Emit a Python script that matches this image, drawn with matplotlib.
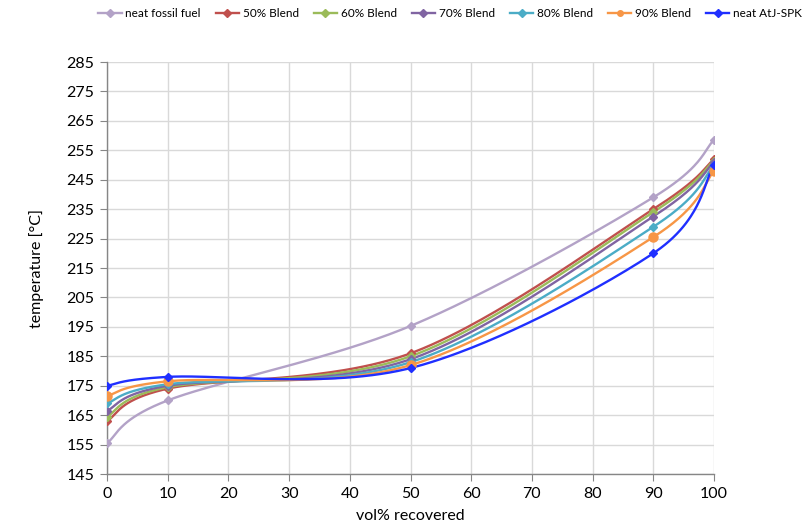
import numpy as np
import matplotlib
matplotlib.use("Agg")
import matplotlib.pyplot as plt

plt.rcParams['font.family'] = ['Lato', 'DejaVu Sans']

vol_recovered = [0, 10, 50, 90, 100]
series_names = ["neat fossil fuel", "50% Blend", "60% Blend", "70% Blend",
                "80% Blend", "90% Blend", "neat AtJ-SPK"]
neat_fossil = [155.5, 170.0, 195.3, 239.0, 258.5]
blend_50 = [163.0, 174.0, 186.0, 235.0, 252.0]
blend_60 = [164.5, 174.5, 185.0, 234.0, 251.5]
blend_70 = [166.5, 175.0, 184.0, 232.5, 251.0]
blend_80 = [169.0, 175.5, 183.0, 229.0, 250.0]
blend_90 = [171.5, 176.5, 182.0, 225.5, 248.0]
neat_atj = [175.0, 178.0, 181.0, 220.0, 250.0]
series_values = [neat_fossil, blend_50, blend_60, blend_70, blend_80, blend_90, neat_atj]
colors = ["#B3A2C7", "#C0504D", "#9BBB59", "#8064A2", "#4BACC6", "#F79646", "#1F2FFF"]
markers = ["D", "D", "D", "D", "D", "o", "D"]
marker_sizes = [4.5, 4.5, 4.5, 4.5, 4.5, 6.5, 4.5]

x_ticks = list(range(0, 101, 10))
y_ticks = list(range(145, 286, 10))

fig = plt.figure(figsize=(8.07, 5.29), dpi=100)
ax = fig.add_axes([107 / 807, 1 - 474 / 529, (714 - 107) / 807, (474 - 62) / 529])
ax.set_xlim(0, 100)
ax.set_ylim(145, 285)

# scale factors so the smoothing is done in display proportions
sx = 607 / 100.0
sy = 412 / 140.0


def smooth_curve(xs, ys, n=60):
    px = np.array(xs, float) * sx
    py = np.array(ys, float) * sy
    pts = np.column_stack([px, py])
    out = []
    m = len(pts)
    for i in range(m - 1):
        p0 = pts[i - 1] if i > 0 else pts[i]
        p1 = pts[i]
        p2 = pts[i + 1]
        p3 = pts[i + 2] if i + 2 < m else pts[i + 1]
        c1 = p1 + (p2 - p0) / 6.0
        c2 = p2 - (p3 - p1) / 6.0
        t = np.linspace(0, 1, n)[:, None]
        seg = ((1 - t) ** 3) * p1 + 3 * ((1 - t) ** 2) * t * c1 + 3 * (1 - t) * t ** 2 * c2 + t ** 3 * p2
        out.append(seg if i == 0 else seg[1:])
    out = np.vstack(out)
    return out[:, 0] / sx, out[:, 1] / sy


for name, vals, c, mk, ms in zip(series_names, series_values, colors, markers, marker_sizes):
    cx, cy = smooth_curve(vol_recovered, vals)
    ax.plot(cx, cy, color=c, lw=1.7, zorder=3)
    ax.plot(vol_recovered, vals, linestyle="none", marker=mk, markersize=ms,
            color=c, markeredgecolor=c, zorder=4)
    ax.plot([], [], color=c, lw=1.7, marker=mk, markersize=4, label=name)

ax.set_xticks(x_ticks)
ax.set_yticks(y_ticks)
ax.grid(True, color="#D9D9D9", lw=1.0, zorder=0)
ax.set_axisbelow(True)
for s in ["top", "right"]:
    ax.spines[s].set_visible(False)
for s in ["left", "bottom"]:
    ax.spines[s].set_color("#868686")
    ax.spines[s].set_linewidth(1.0)
ax.tick_params(axis="both", direction="out", length=5, color="#868686",
               labelsize=11.5, labelcolor="#000000", pad=4)
ax.set_xlabel("vol% recovered", fontsize=11.5, labelpad=6)
ax.set_ylabel("temperature [°C]", fontsize=11.5, labelpad=16)

fig.legend(loc="center", bbox_to_anchor=(450 / 807, 1 - 14 / 529), ncol=7,
           frameon=False, fontsize=8.5, handlelength=2.0, handletextpad=0.3,
           columnspacing=1.25)

fig.savefig("out.png", dpi=100)
